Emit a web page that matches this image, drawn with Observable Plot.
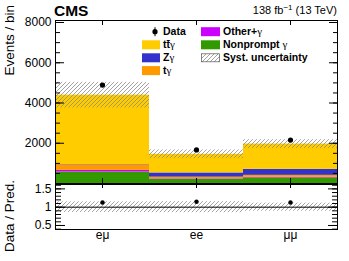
<!DOCTYPE html>
<html><head><meta charset="utf-8">
<script src="https://cdn.jsdelivr.net/npm/d3@7"></script>
<script src="https://cdn.jsdelivr.net/npm/@observablehq/plot@0.6"></script>
<style>
body{margin:0;background:#fff;}
#wrap{position:relative;width:349px;height:261px;font-family:"Liberation Sans",Arial,sans-serif;}
#wrap > svg{position:absolute;left:0;}
</style></head><body><div id="wrap"></div>
<script>
// ---- data ----
const channels = ["eμ", "ee", "μμ"];
const nonprompt = [570, 200, 275];
const otherGamma = [80, 30, 30];
const tgamma = [280, 85, 100];
const zgamma = [15, 210, 295];
const ttgamma = [3445, 925, 1260];
const dataCounts = [4890, 1670, 2160];
const ratioValues = [1.13, 1.15, 1.13];
const relSyst = [0.145, 0.15, 0.11];
const yTicksMajor = [0, 2000, 4000, 6000, 8000];
const yTickLabels = [2000, 4000, 6000, 8000];
const ratioTickLabels = [0.5, 1, 1.5];
const processes = ["Nonprompt γ", "Other+γ", "tγ", "Zγ", "tt̄γ"]; // bottom → top
const processColors = ["#339900", "#cc00ff", "#ff9900", "#3333cc", "#ffcc00"];
const seriesByProcess = [nonprompt, otherGamma, tgamma, zgamma, ttgamma];

// ---- tables built from the arrays ----
const stackRows = [];
channels.forEach((c, i) => processes.forEach((p, j) => stackRows.push({channel: c, process: p, value: seriesByProcess[j][i]})));
const totals = channels.map((c, i) => seriesByProcess.reduce((s, arr) => s + arr[i], 0));
const bandRows = channels.map((c, i) => ({channel: c, lo: totals[i] * (1 - relSyst[i]), hi: totals[i] * (1 + relSyst[i])}));
const dataRows = channels.map((c, i) => ({channel: c, n: dataCounts[i]}));
const ratioRows = channels.map((c, i) => ({channel: c, r: ratioValues[i]}));
const ratioBandRows = channels.map((c, i) => ({channel: c, lo: 1 - relSyst[i], hi: 1 + relSyst[i]}));

const font = {fontFamily: "'Liberation Sans', Arial, sans-serif", fontSize: "12px", background: "transparent", overflow: "visible"};
const blank = () => "";
const plain = d => String(d);

function addHatch(svg, id) {
  const defs = d3.select(svg).insert("defs", ":first-child");
  const pat = defs.append("pattern").attr("id", id).attr("patternUnits", "userSpaceOnUse")
    .attr("width", 4).attr("height", 4);
  pat.append("path").attr("d", "M-1,1L1,-1M0,4L4,0M3,5L5,3")
    .attr("stroke", "#8a8a8a").attr("stroke-width", 0.8);
}

const topPlot = Plot.plot({
  width: 349, height: 184,
  marginTop: 20, marginBottom: 1, marginLeft: 55, marginRight: 12,
  style: font,
  x: {type: "band", domain: channels, padding: 0},
  y: {domain: [0, 8100]},
  color: {domain: processes, range: processColors},
  marks: [
    Plot.barY(stackRows, {x: "channel", y: "value", fill: "process"}),
    Plot.barY(bandRows, {x: "channel", y1: "lo", y2: "hi", fill: "url(#hatchTop)"}),
    Plot.dot(dataRows, {x: "channel", y: "n", r: 2.6, fill: "black"}),
    Plot.axisY({ticks: yTicksMajor, tickSize: -9, tickFormat: blank, label: null}),
    Plot.axisY({ticks: d3.range(0, 8001, 500), tickSize: -5, tickFormat: blank, label: null}),
    Plot.axisY({anchor: "right", ticks: yTicksMajor, tickSize: -9, tickFormat: blank, label: null}),
    Plot.axisY({anchor: "right", ticks: d3.range(0, 8001, 500), tickSize: -5, tickFormat: blank, label: null}),
    Plot.axisY({ticks: yTickLabels, tickSize: 0, tickPadding: 4, label: null, fontSize: 12, tickFormat: plain}),
    Plot.axisX({anchor: "top", tickSize: -4, tickFormat: blank, label: null}),
    Plot.axisX({anchor: "bottom", tickSize: -5, tickFormat: blank, label: null}),
    Plot.frame({stroke: "black", strokeWidth: 1})
  ]
});
addHatch(topPlot, "hatchTop");
topPlot.style.top = "0px";

const ratioPlot = Plot.plot({
  width: 349, height: 77,
  marginTop: 0, marginBottom: 32, marginLeft: 55, marginRight: 12,
  style: font,
  x: {type: "band", domain: channels, padding: 0},
  y: {domain: [0.39, 1.62]},
  marks: [
    Plot.barY(ratioBandRows, {x: "channel", y1: "lo", y2: "hi", fill: "url(#hatchRatio)"}),
    Plot.ruleY([1], {stroke: "black", strokeWidth: 1}),
    Plot.dot(ratioRows, {x: "channel", y: "r", r: 2.2, fill: "black"}),
    Plot.axisY({ticks: ratioTickLabels, tickSize: -10, tickFormat: blank, label: null}),
    Plot.axisY({ticks: d3.range(0.4, 1.61, 0.1), tickSize: -6, tickFormat: blank, label: null}),
    Plot.axisY({anchor: "right", ticks: ratioTickLabels, tickSize: -10, tickFormat: blank, label: null}),
    Plot.axisY({anchor: "right", ticks: d3.range(0.4, 1.61, 0.1), tickSize: -6, tickFormat: blank, label: null}),
    Plot.axisY({ticks: ratioTickLabels, tickSize: 0, tickPadding: 4, label: null, fontSize: 12, tickFormat: plain}),
    Plot.axisX({anchor: "top", tickSize: -3, tickFormat: blank, label: null}),
    Plot.axisX({anchor: "bottom", tickSize: 0, tickPadding: 1, label: null, fontSize: 12}),
    Plot.frame({stroke: "black", strokeWidth: 1})
  ]
});
addHatch(ratioPlot, "hatchRatio");
ratioPlot.style.top = "184px";

const wrap = document.getElementById("wrap");
wrap.appendChild(topPlot);
wrap.appendChild(ratioPlot);

// ---- overlay: titles and legend ----
const ov = d3.select(wrap).append("svg").attr("width", 349).attr("height", 261)
  .style("position", "absolute").style("top", "0px").style("left", "0px")
  .attr("font-family", "'Liberation Sans', Arial, sans-serif");
addHatch(ov.node(), "hatchLeg");

ov.append("text").attr("x", 54).attr("y", 15.5).attr("font-size", 15.5).attr("font-weight", "bold").text("CMS");
const lumi = ov.append("text").attr("x", 337).attr("y", 14).attr("text-anchor", "end").attr("font-size", 11);
lumi.append("tspan").text("138 fb");
lumi.append("tspan").attr("dy", -4).attr("font-size", 8).text("−1");
lumi.append("tspan").attr("dy", 4).text(" (13 TeV)");

ov.append("text").attr("transform", "translate(14,5) rotate(-90)").attr("text-anchor", "end").attr("font-size", 13.5).text("Events / bin");
ov.append("text").attr("transform", "translate(14,180) rotate(-90)").attr("text-anchor", "end").attr("font-size", 13.5).text("Data / Pred.");

function legLabel(x, y, label) {
  const t = ov.append("text").attr("x", x).attr("y", y).attr("dy", "0.35em")
    .attr("font-size", 10.5).attr("font-weight", "bold");
  const parts = label.split("γ");
  parts.forEach((s, k) => {
    if (s) t.append("tspan").text(s);
    if (k < parts.length - 1) t.append("tspan").attr("font-family", "'Liberation Serif', serif").attr("font-weight", "normal").attr("font-size", 11).text("γ");
  });
}
const rowY = [31.7, 44.8, 57.8, 70.6];
// column 1: Data, tt̄γ, Zγ, tγ
ov.append("line").attr("x1", 155).attr("x2", 155).attr("y1", rowY[0] - 4.5).attr("y2", rowY[0] + 4.5).attr("stroke", "black");
ov.append("circle").attr("cx", 155).attr("cy", rowY[0]).attr("r", 2.6).attr("fill", "black");
legLabel(163, rowY[0], "Data");
const col1 = [4, 3, 2];
col1.forEach((pi, k) => {
  ov.append("rect").attr("x", 142).attr("y", rowY[k + 1] - 4.5).attr("width", 18).attr("height", 9).attr("fill", processColors[pi]);
  legLabel(163, rowY[k + 1], processes[pi]);
});
// column 2: Other+γ, Nonprompt γ, Syst. uncertainty
const col2 = [1, 0];
col2.forEach((pi, k) => {
  ov.append("rect").attr("x", 201).attr("y", rowY[k] - 4.5).attr("width", 19).attr("height", 9).attr("fill", processColors[pi]);
  legLabel(223, rowY[k], processes[pi]);
});
ov.append("rect").attr("x", 201.5).attr("y", rowY[2] - 4).attr("width", 18).attr("height", 8).attr("fill", "url(#hatchLeg)").attr("stroke", "#555").attr("stroke-width", 0.7);
legLabel(223, rowY[2], "Syst. uncertainty");
</script></body></html>
